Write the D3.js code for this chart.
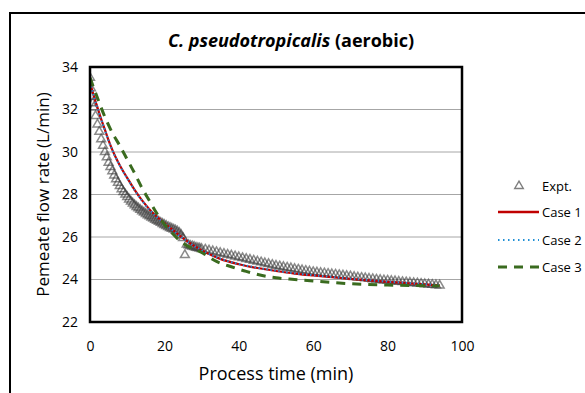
<!DOCTYPE html>
<html><head><meta charset="utf-8">
<script src="https://cdn.jsdelivr.net/npm/d3@7"></script>
<style>body{margin:0;background:#fff;} svg{display:block;}</style>
</head><body>
<svg id="chart" width="585" height="393"></svg>
<script>
// ---- data ----
const xTicks = [0, 20, 40, 60, 80, 100];
const yTicks = [22, 24, 26, 28, 30, 32, 34];

const exptTime = [0,0.25,0.5,0.75,1,1.5,2,2.5,3,3.5,4,4.5,5,5.5,6,6.5,7,7.5,8,8.5,9,9.5,10,
  10.5,11,11.5,12,12.5,13,13.5,14,14.5,15,15.5,16,16.5,17,17.5,18,18.5,19,19.5,20,20.5,21,21.5,22,22.5,23,23.5,24,24.5,25,25.5,26,26.5,27,27.5,28,28.5,29,29.5,
  30,31,32,33,34,35,36,37,38,39,40,41,42,43,44,45,46,47,48,49,50,51,52,53,54,55,56,57,58,59,60,61,62,63,64,65,66,67,68,69,70,
  71,72,73,74,75,76,77,78,79,80,81,82,83,84,85,86,87,88,89,90,91,92,93,94];
const exptFlow = [33.5,33.0,32.6,32.3,32.1,31.7,31.3,30.95,30.6,30.3,30.0,29.75,29.5,29.3,29.1,28.9,28.72,28.55,28.4,28.25,28.12,28.0,27.88,
  27.77,27.67,27.58,27.5,27.42,27.35,27.28,27.21,27.15,27.09,27.03,26.98,26.92,26.87,26.82,26.77,26.72,26.67,26.62,26.57,26.52,26.47,26.43,26.39,26.35,26.31,26.26,26.2,26.1,25.95,25.15,25.65,25.62,25.58,25.56,25.53,25.5,25.48,25.46,
  25.44,25.41,25.37,25.33,25.29,25.25,25.21,25.17,25.13,25.09,25.05,25.01,24.97,24.93,24.89,24.85,24.81,24.77,24.73,24.69,24.65,24.62,24.59,24.56,24.53,24.5,24.47,24.44,24.41,24.38,24.35,24.33,24.31,24.29,24.27,24.25,24.23,24.21,24.19,24.17,24.15,
  24.12,24.1,24.08,24.06,24.04,24.02,24.0,23.98,23.96,23.95,23.93,23.92,23.9,23.88,23.87,23.85,23.83,23.82,23.8,23.78,23.77,23.75,23.73,23.72];

const case1Time = [0,1,2,3,4,5,6,7,8,10,12,14,16,18,20,22,24,26,28,30,35,40,45,50,55,60,65,70,75,80,85,90,94];
const case1Flow = [33.3,32.65,32.1,31.55,31.05,30.55,30.1,29.72,29.38,28.78,28.22,27.72,27.3,26.95,26.65,26.37,26.08,25.82,25.58,25.38,24.97,24.72,24.54,24.4,24.28,24.19,24.11,24.03,23.96,23.89,23.83,23.77,23.72];

const case2Time = [0,1,2,3,4,5,6,7,8,10,12,14,16,18,20,22,24,26,28,30,35,40,45,50,55,60,65,70,75,80,85,90,94];
const case2Flow = [33.28,32.62,32.07,31.52,31.02,30.52,30.08,29.7,29.36,28.76,28.2,27.7,27.28,26.94,26.64,26.36,26.07,25.81,25.58,25.38,24.98,24.73,24.55,24.41,24.29,24.2,24.12,24.04,23.97,23.9,23.84,23.78,23.73];

const case3Time = [0,2,4,6,8,10,12,14,16,18,20,22,24,26,28,30,34,38,42,46,50,55,60,65,70,80,90,94];
const case3Flow = [33.5,32.55,31.65,30.9,30.3,29.65,29.0,28.3,27.7,27.1,26.6,26.2,25.85,25.6,25.43,25.27,24.85,24.6,24.38,24.2,24.08,24.0,23.93,23.86,23.8,23.74,23.71,23.7];

const legendLabels = ["Expt.", "Case 1", "Case 2", "Case 3"];

// ---- drawing ----
const svg = d3.select("#chart");
const FONT = "'Open Sans', 'Noto Sans', sans-serif";
const m = {left: 90, top: 67, right: 462, bottom: 322};

// outer frame
svg.append("rect").attr("x", 10).attr("y", 13).attr("width", 600).attr("height", 400)
  .attr("fill", "none").attr("stroke", "#000").attr("stroke-width", 2);

const x = d3.scaleLinear().domain([0, 100]).range([m.left, m.right]);
const y = d3.scaleLinear().domain([22, 34]).range([m.bottom, m.top]);

// gridlines
svg.append("g").selectAll("line").data(yTicks.slice(1, -1)).join("line")
  .attr("x1", m.left).attr("x2", m.right)
  .attr("y1", d => y(d)).attr("y2", d => y(d))
  .attr("stroke", "#a6a6a6").attr("stroke-width", 1);

// axes (labels only)
const yAxis = svg.append("g").attr("transform", `translate(${m.left},0)`)
  .call(d3.axisLeft(y).tickValues(yTicks).tickSize(0).tickPadding(12));
yAxis.select(".domain").remove();
yAxis.selectAll("text").attr("font-family", FONT).attr("font-size", 14).attr("fill", "#000");

const xAxis = svg.append("g").attr("transform", `translate(0,${m.bottom})`)
  .call(d3.axisBottom(x).tickValues(xTicks).tickSize(0).tickPadding(19));
xAxis.select(".domain").remove();
xAxis.selectAll("text").attr("font-family", FONT).attr("font-size", 14).attr("fill", "#000");

// clip
svg.append("clipPath").attr("id", "clip").append("rect")
  .attr("x", m.left).attr("y", m.top - 6).attr("width", m.right - m.left).attr("height", m.bottom - m.top + 6);

const plot = svg.append("g").attr("clip-path", "url(#clip)");

const tri = d3.symbol().type(d3.symbolTriangle).size(34);
const expt = exptTime.map((t, i) => [t, exptFlow[i]]);
plot.append("g").selectAll("path").data(expt).join("path")
  .attr("d", tri)
  .attr("transform", d => `translate(${x(d[0])},${y(d[1])})`)
  .attr("fill", "none").attr("stroke", "#3c3c3c").attr("stroke-width", 1.5).attr("stroke-opacity", 0.6);

const line = d3.line().x(d => x(d[0])).y(d => y(d[1])).curve(d3.curveMonotoneX);
const c1 = case1Time.map((t, i) => [t, case1Flow[i]]);
const c2 = case2Time.map((t, i) => [t, case2Flow[i]]);
const c3 = case3Time.map((t, i) => [t, case3Flow[i]]);

plot.append("path").datum(c1).attr("d", line).attr("fill", "none")
  .attr("stroke", "#c00000").attr("stroke-width", 2.2);
plot.append("path").datum(c2).attr("d", line).attr("fill", "none")
  .attr("stroke", "#1f8fd6").attr("stroke-width", 2).attr("stroke-dasharray", "1.5,2.5");
plot.append("path").datum(c3).attr("d", line).attr("fill", "none")
  .attr("stroke", "#3a6b1f").attr("stroke-width", 3).attr("stroke-dasharray", "9,7");

// plot border
svg.append("rect").attr("x", m.left).attr("y", m.top)
  .attr("width", m.right - m.left).attr("height", m.bottom - m.top)
  .attr("fill", "none").attr("stroke", "#000").attr("stroke-width", 2.5);

// title
const title = svg.append("text").attr("x", 291).attr("y", 47).attr("text-anchor", "middle")
  .attr("font-family", FONT).attr("font-size", 18).attr("font-weight", "bold");
title.append("tspan").attr("font-style", "italic").text("C. pseudotropicalis");
title.append("tspan").text("\u00a0(aerobic)");

// axis titles
svg.append("text").attr("x", 276).attr("y", 380).attr("text-anchor", "middle")
  .attr("font-family", FONT).attr("font-size", 18).text("Process time (min)");
svg.append("text").attr("transform", `translate(49,${(m.top + m.bottom) / 2}) rotate(-90)`)
  .attr("text-anchor", "middle").attr("font-family", FONT).attr("font-size", 17)
  .text("Pemeate flow rate (L/min)");

// legend
const lg = svg.append("g");
const ly = [186, 212, 240, 267];
lg.append("path").attr("d", d3.symbol().type(d3.symbolTriangle).size(32))
  .attr("transform", `translate(519,${ly[0]})`)
  .attr("fill", "none").attr("stroke", "#7f7f7f").attr("stroke-width", 1.4);
lg.append("line").attr("x1", 498).attr("x2", 539).attr("y1", ly[1]).attr("y2", ly[1])
  .attr("stroke", "#c00000").attr("stroke-width", 2.5);
lg.append("line").attr("x1", 498).attr("x2", 539).attr("y1", ly[2]).attr("y2", ly[2])
  .attr("stroke", "#1f8fd6").attr("stroke-width", 2).attr("stroke-dasharray", "1.5,3.5");
lg.append("line").attr("x1", 498).attr("x2", 539).attr("y1", ly[3]).attr("y2", ly[3])
  .attr("stroke", "#3a6b1f").attr("stroke-width", 3).attr("stroke-dasharray", "9,7");
lg.selectAll("text").data(legendLabels).join("text")
  .attr("x", 542).attr("y", (d, i) => ly[i]).attr("dy", "0.35em")
  .attr("font-family", FONT).attr("font-size", 13).text(d => d);
</script>
</body></html>
